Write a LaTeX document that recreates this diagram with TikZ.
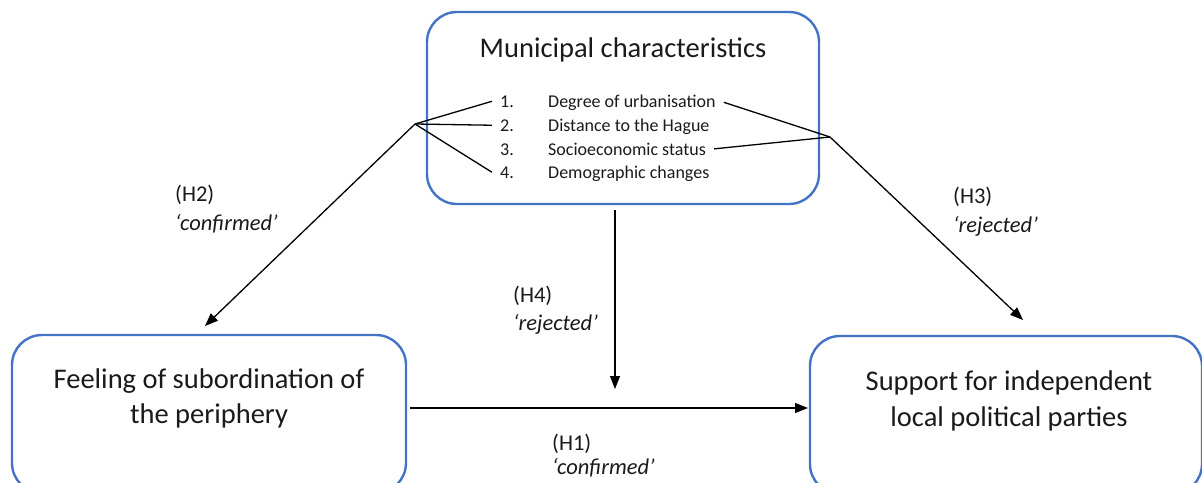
\documentclass[tikz,border=0pt]{standalone}
\usepackage{fontspec}
\setmainfont{Carlito}
\usetikzlibrary{arrows.meta}
\definecolor{boxblue}{HTML}{4472C4}
\definecolor{txt}{HTML}{1A1A1A}
\begin{document}
\begin{tikzpicture}[x=1pt,y=-1pt,
  box/.style={draw=boxblue,line width=2.4pt,rounded corners=30pt,inner sep=0pt},
  big/.style={font=\fontsize{28.5}{35}\selectfont,text=txt,inner sep=0pt,anchor=base},
  item/.style={font=\fontsize{18}{20}\selectfont,text=txt,inner ysep=1pt,inner xsep=8pt,anchor=base west},
  lab/.style={font=\fontsize{22.5}{29}\selectfont,text=txt,anchor=base west,inner sep=0pt},
  ln/.style={line width=1.3pt,black},
  arr/.style={ln,-{Triangle[length=13pt,width=10pt]}}]
\useasboundingbox (0,0) rectangle (1202,482);
\begin{scope}
\clip (0,0) rectangle (1202,482);
\node[box,minimum width=392pt,minimum height=192pt] (top) at (623,108) {};
\node[box,minimum width=394pt,minimum height=158pt] (left) at (209,414) {};
\node[box,minimum width=392pt,minimum height=158pt] (right) at (1006,415) {};
\end{scope}
\node[big] (title) at (623,57) {Municipal characteristics};
\node[big] (l1) at (209,388) {Feeling of subordination of};
\node[big] (l2) at (209,423) {the periphery};
\node[big] (r1) at (1009,390) {Support for independent};
\node[big] (r2) at (1009,426) {local political parties};
% list
\node[item] (n1) at (492,107) {1.};
\node[item] (n2) at (492,131) {2.};
\node[item] (n3) at (492,155) {3.};
\node[item] (n4) at (492,178) {4.};
\node[item] (t1) at (540,107) {Degree of urbanisation};
\node[item] (t2) at (540,131) {Distance to the Hague};
\node[item] (t3) at (540,155) {Socioeconomic status};
\node[item] (t4) at (540,178) {Demographic changes};
\coordinate (fl) at (415,124);
\coordinate (fr) at (830,137);
\draw[ln] (n1.west) -- (fl);
\draw[ln] (n2.west) -- (fl);
\draw[ln] (n4.west) -- (fl);
\draw[ln] (t1.east) -- (fr);
\draw[ln] (t3.east) -- (fr);
\coordinate (h2end) at (205,326);
\coordinate (h3end) at (1023,320);
\draw[arr] (fl) -- (h2end);
\draw[arr] (fr) -- (h3end);
\coordinate (h4start) at (615,210);
\coordinate (h4end) at (615,389);
\draw[arr] (h4start) -- (h4end);
\coordinate (h1start) at (410,408);
\coordinate (h1end) at (808,408);
\draw[arr] (h1start) -- (h1end);
% labels
\node[lab] (h2a) at (175,201) {(H2)};
\node[lab] (h2b) at (175,230) {\textit{‘confirmed’}};
\node[lab] (h3a) at (953,203) {(H3)};
\node[lab] (h3b) at (953,232) {\textit{‘rejected’}};
\node[lab] (h4a) at (513,302) {(H4)};
\node[lab] (h4b) at (513,330) {\textit{‘rejected’}};
\node[lab] (h1a) at (552,450) {(H1)};
\node[lab] (h1b) at (552,474) {\textit{‘confirmed’}};
\end{tikzpicture}
\end{document}
